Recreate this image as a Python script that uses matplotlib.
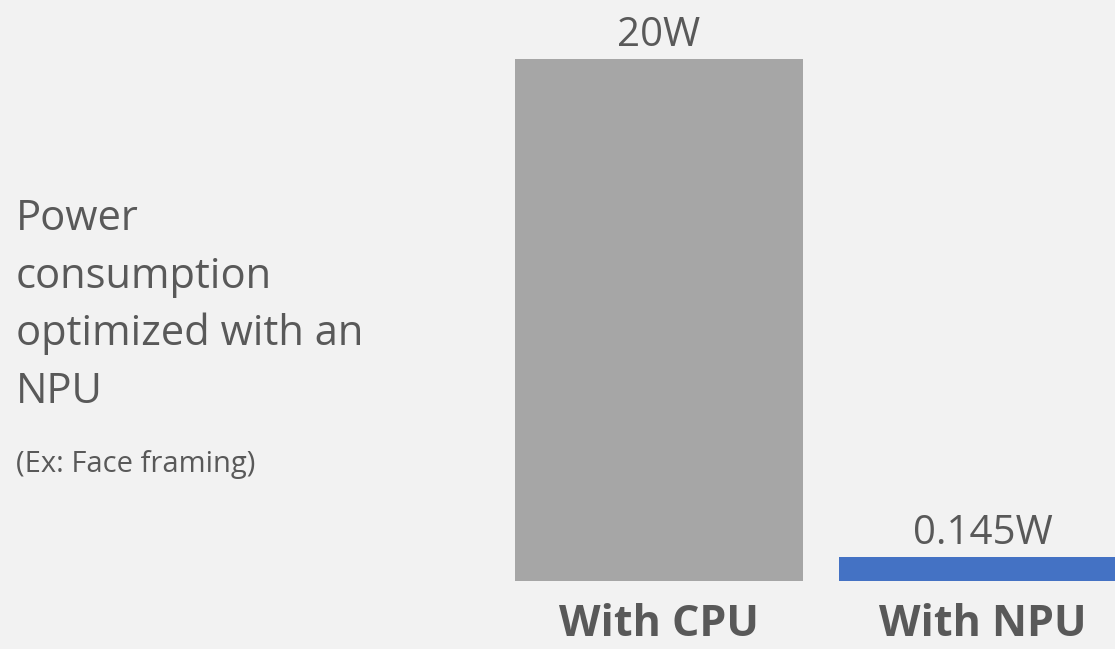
import matplotlib.pyplot as plt
import matplotlib as mpl

# power draw for face framing, CPU vs NPU
categories = ["With CPU", "With NPU"]
power_w = [20, 0.145]
value_labels = ["20W", "0.145W"]
bar_colors = ["#A6A6A6", "#4472C4"]

title_lines = ["Power", "consumption", "optimized with an", "NPU"]
note = "(Ex: Face framing)"

bg = "#F2F2F2"
text_color = "#595959"

mpl.rcParams['font.family'] = ['Open Sans', 'DejaVu Sans']

fig = plt.figure(figsize=(11.15, 6.49), dpi=100, facecolor=bg)

# axes run past the right edge so the second bar gets cut off
ax = fig.add_axes([497 / 1115, 68 / 649, 648 / 1115, 522 / 649])
ax.set_facecolor(bg)

# log scale keeps the tiny NPU value visible next to the CPU one
y_floor = 0.1143
ax.set_yscale('log')
x = range(len(categories))
ax.bar(x, [v - y_floor for v in power_w], bottom=y_floor, width=0.889,
       color=bar_colors, clip_on=False)
ax.set_xlim(-0.5, 1.5)
ax.set_ylim(y_floor, max(power_w))

for i, (v, lab) in enumerate(zip(power_w, value_labels)):
    ax.annotate(lab, xy=(i, v), xytext=(0, 9.5), textcoords='offset points',
                ha='center', va='baseline', fontsize=29, color=text_color)

for i, cat in enumerate(categories):
    ax.annotate(cat, xy=(i, 0), xycoords=('data', 'axes fraction'),
                xytext=(0, -39.5), textcoords='offset points',
                ha='center', va='baseline', fontsize=31, fontweight='bold',
                color=text_color, annotation_clip=False)

ax.axis('off')

# description on the left
for k, line in enumerate(title_lines):
    fig.text(16 / 1115, 1 - (230 + 57.7 * k) / 649, line, ha='left', va='baseline',
             fontsize=30, color=text_color)
fig.text(16 / 1115, 1 - 472 / 649, note, ha='left', va='baseline',
         fontsize=21, color=text_color)

fig.savefig("out.png", dpi=100, facecolor=bg)
